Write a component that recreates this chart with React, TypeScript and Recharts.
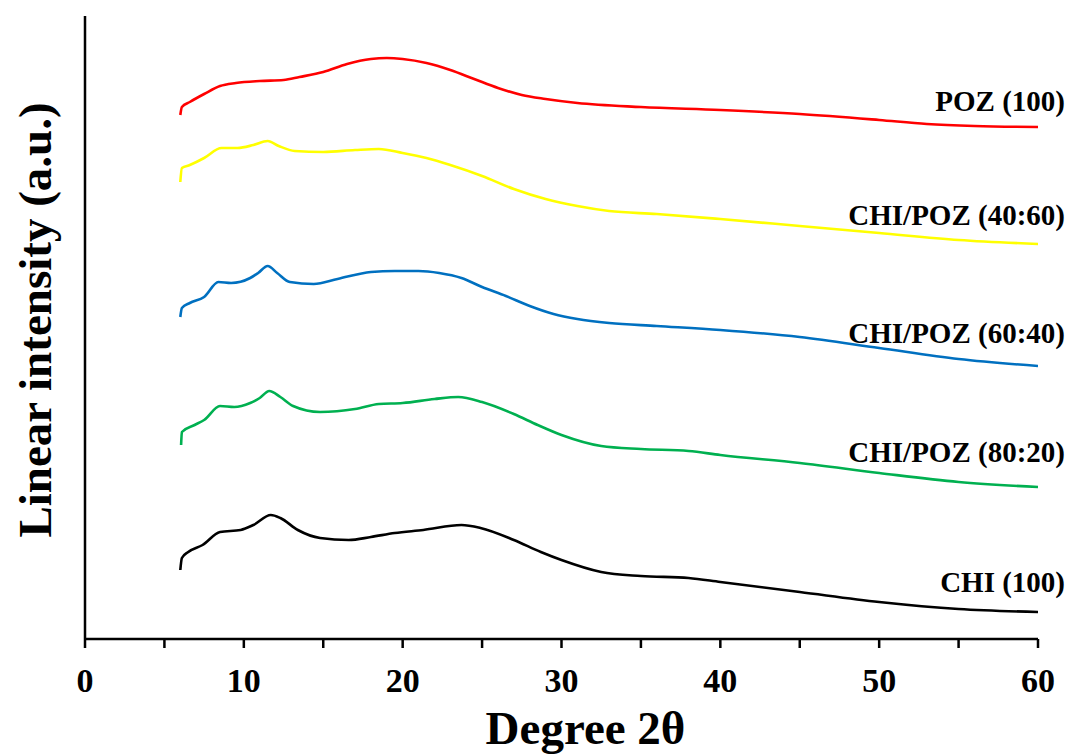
import React from "react";
import { LineChart, Line, XAxis, YAxis, ReferenceDot } from "recharts";

// 2θ positions (degrees) and intensities (a.u.) for each sample
const pozX = [6.0, 6.1, 6.6, 7.5, 8.5, 9.5, 11, 12.5, 13.5, 15, 16.5, 18, 19, 20, 21.5, 23, 24.5, 26, 27.5, 29, 31, 35, 40, 45, 50, 53, 56, 60];
const pozY = [524, 532, 537, 545, 553, 556, 558, 559, 562, 567, 575, 580, 581, 580, 576, 569, 560, 551, 544, 540, 536, 532, 529, 525, 519, 515, 513, 512];

const c4060X = [6.0, 6.1, 6.6, 7.5, 8.6, 9.6, 10.6, 11.5, 12.2, 13.2, 15, 17, 18.5, 20, 21.5, 23, 25, 27, 29, 31, 33, 36, 40, 45, 50, 55, 60];
const c4060Y = [457, 471, 474, 481, 491, 491, 494, 498, 493, 488, 487, 489, 490, 486, 481, 474, 463, 450, 440, 433, 428, 425, 420, 413, 406, 399, 395];

const c6040X = [6.0, 6.1, 6.6, 7.5, 8.4, 9.2, 10.4, 10.9, 11.5, 12.1, 12.9, 14.4, 15.9, 18, 19.5, 21, 22.3, 23.7, 25, 26.5, 28, 29.5, 31, 33, 36, 40, 45, 50, 55, 60];
const c6040Y = [322, 331, 336, 342, 357, 356, 361, 366, 373, 366, 357, 355, 360, 367, 368, 368, 366, 361, 352, 343, 333, 325, 320, 316, 313, 309, 302, 291, 280, 273];

const c8020X = [6.05, 6.1, 6.9, 7.5, 8.5, 9.4, 10.4, 11, 11.6, 12.3, 13.1, 14.8, 17, 18.5, 20, 22, 23.5, 25, 27, 28.5, 30, 32.5, 35, 38, 40, 45, 50, 55, 60];
const c8020Y = [194, 207, 214, 219, 233, 232, 236, 241, 248, 242, 233, 227, 230, 235, 236, 240, 242, 237, 225, 214, 204, 193, 190, 188, 184, 176, 166, 157, 152];

const chiX = [6.0, 6.1, 6.5, 7.4, 8.5, 9.8, 10.6, 11.7, 12.3, 13.4, 14.8, 16.6, 18, 19.5, 21.3, 23.7, 24.9, 27, 28.7, 30, 32.5, 35, 38, 40, 45, 50, 55, 60];
const chiY = [69, 81, 87, 94, 107, 109, 114, 124, 121, 109, 101, 99, 102, 106, 109, 114, 111, 99, 87, 79, 67, 63, 61, 57, 47, 37, 30, 27];

const seriesNames = ["POZ (100)", "CHI/POZ (40:60)", "CHI/POZ (60:40)", "CHI/POZ (80:20)", "CHI (100)"];
const seriesColors = ["#FF0000", "#FFFF00", "#0070C0", "#00B050", "#000000"];
const labelAnchorY = [538, 424, 306, 187, 57];

const xTicks = [0, 5, 10, 15, 20, 25, 30, 35, 40, 45, 50, 55, 60];

const toPoints = (xs: number[], ys: number[]) => xs.map((x, i) => ({ x, y: ys[i] }));

const seriesData = [
  toPoints(pozX, pozY),
  toPoints(c4060X, c4060Y),
  toPoints(c6040X, c6040Y),
  toPoints(c8020X, c8020Y),
  toPoints(chiX, chiY),
];

const FONT = '"Liberation Serif", "Times New Roman", serif';

const XTick = (props: any) => {
  const { x, y, payload } = props;
  if (payload.value % 10 !== 0) return null;
  return (
    <text x={x} y={y + 42} textAnchor="middle" fontFamily={FONT} fontWeight="bold" fontSize={34} fill="#000">
      {payload.value}
    </text>
  );
};

const XTitle = (props: any) => {
  const vb = props.viewBox;
  return (
    <text x={vb.x + vb.width / 2 + 24} y={vb.y + 105} textAnchor="middle" fontFamily={FONT} fontWeight="bold" fontSize={47} fill="#000">
      Degree 2θ
    </text>
  );
};

const YTitle = () => {
  const cx = 43;
  const cy = 312;
  return (
    <text x={cx} y={cy} transform={`rotate(-90 ${cx} ${cy})`} textAnchor="middle" fontFamily={FONT} fontWeight="bold" fontSize={47} fill="#000">
      Linear intensity (a.u.)
    </text>
  );
};

const makeSeriesLabel = (text: string) => (props: any) => {
  const vb = props.viewBox;
  return (
    <text x={vb.x + 27} y={vb.y + 10} textAnchor="end" fontFamily={FONT} fontWeight="bold" fontSize={29} fill="#000">
      {text}
    </text>
  );
};

export default function App() {
  return (
    <div style={{ width: 1070, height: 746 }}>
      <LineChart width={1070} height={746} margin={{ top: 8, right: 40, bottom: 5, left: 17 }}>
        <XAxis
          type="number"
          dataKey="x"
          domain={[0, 60]}
          ticks={xTicks}
          interval={0}
          height={110}
          tickSize={9}
          tickMargin={2}
          axisLine={{ stroke: "#000", strokeWidth: 2.5 }}
          tickLine={{ stroke: "#000", strokeWidth: 2.5 }}
          tick={<XTick />}
          allowDataOverflow
          label={<XTitle />}
        />
        <YAxis
          type="number"
          dataKey="y"
          domain={[0, 623]}
          width={60}
          tick={false}
          tickLine={false}
          axisLine={{ stroke: "#000", strokeWidth: 2.5 }}
          allowDataOverflow
          label={<YTitle />}
        />
        {seriesData.map((d, i) => (
          <Line
            key={seriesNames[i]}
            data={d}
            dataKey="y"
            type="monotone"
            stroke={seriesColors[i]}
            strokeWidth={2.6}
            dot={false}
            activeDot={false}
            isAnimationActive={false}
          />
        ))}
        {seriesNames.map((name, i) => (
          <ReferenceDot
            key={"lbl" + i}
            x={60}
            y={labelAnchorY[i]}
            r={0}
            fill="none"
            stroke="none"
            label={makeSeriesLabel(name)}
          />
        ))}
      </LineChart>
    </div>
  );
}
